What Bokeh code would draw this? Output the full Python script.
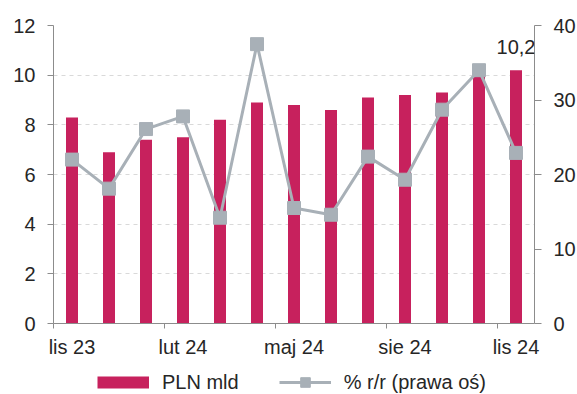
from bokeh.plotting import figure
from bokeh.layouts import column
from bokeh.models import (Range1d, LinearAxis, FixedTicker, Legend, LegendItem,
                          ColumnDataSource, Label)
from bokeh.embed import file_html
from bokeh.resources import INLINE

months = ["lis 23", "gru 23", "sty 24", "lut 24", "mar 24", "kwi 24", "maj 24",
          "cze 24", "lip 24", "sie 24", "wrz 24", "paź 24", "lis 24"]
pln_mld = [8.3, 6.9, 7.4, 7.5, 8.2, 8.9, 8.8, 8.6, 9.1, 9.2, 9.3, 10.0, 10.2]
yoy_pct = [22.0, 18.1, 26.1, 27.8, 14.2, 37.5, 15.5, 14.6, 22.4, 19.3, 28.7, 34.0, 22.9]
left_ticks = [0, 2, 4, 6, 8, 10, 12]
right_ticks = [0, 10, 20, 30, 40]
label_months = [0, 3, 6, 9, 12]

FONT = "Liberation Sans"
BAR = "#C7215D"
LINE = "#A8B0B7"
AXIS = "#8C8C8C"
TXT = "#262626"

idx = list(range(len(months)))
src = ColumnDataSource(dict(x=idx, base=[0] * len(months), pln=pln_mld, yoy=yoy_pct))

p = figure(frame_width=481, frame_height=298, output_backend="svg",
           toolbar_location=None,
           x_range=Range1d(-0.5, len(months) - 0.5), y_range=Range1d(0, 12),
           min_border_left=53, min_border_right=43, min_border_top=25,
           min_border_bottom=38)
p.extra_y_ranges = {"right": Range1d(0, 40)}
p.outline_line_color = None
p.background_fill_color = "white"


def draw(fig):
    b = fig.segment(x0="x", y0="base", x1="x", y1="pln", source=src,
                    line_color=BAR, line_width=12, line_cap="butt")
    l = fig.line(x="x", y="yoy", source=src, line_color=LINE, line_width=3,
                 y_range_name="right")
    m = fig.scatter(x="x", y="yoy", source=src, marker="square", size=13,
                    fill_color=LINE, line_color=LINE, y_range_name="right")
    return b, l, m


draw(p)

# x axis
xa = p.xaxis[0]
xa.ticker = FixedTicker(ticks=label_months,
                        minor_ticks=[m - 0.5 for m in label_months])
xa.major_label_overrides = {m: months[m] for m in label_months}
xa.major_tick_out = 0
xa.major_tick_in = 0
xa.minor_tick_out = 5
xa.minor_tick_in = 0
xa.minor_tick_line_color = AXIS
xa.axis_line_color = AXIS
xa.major_label_standoff = 7

# left axis
ya = p.yaxis[0]
ya.ticker = FixedTicker(ticks=left_ticks)
ya.major_tick_out = 6
ya.major_tick_in = 0
ya.minor_tick_line_color = None
ya.major_tick_line_color = AXIS
ya.axis_line_color = AXIS
ya.major_label_standoff = 12

# right axis
ra = LinearAxis(y_range_name="right", ticker=FixedTicker(ticks=right_ticks))
ra.major_tick_out = 7
ra.major_tick_in = 0
ra.minor_tick_line_color = None
ra.major_tick_line_color = AXIS
ra.axis_line_color = AXIS
ra.major_label_standoff = 12
p.add_layout(ra, "right")

for ax in [xa, ya, ra]:
    ax.major_label_text_font = FONT
    ax.major_label_text_font_size = "20px"
    ax.major_label_text_color = TXT

p.xgrid.grid_line_color = None
p.ygrid.grid_line_color = "#D9D9D9"
p.ygrid.grid_line_dash = "4 4"
p.ygrid.grid_line_width = 1

# value label on last bar
last = len(months) - 1
p.add_layout(Label(x=last, y=pln_mld[last], text=f"{pln_mld[last]:.1f}".replace(".", ","),
                   text_align="center", text_baseline="bottom", y_offset=16,
                   text_font=FONT, text_font_size="20px", text_color=TXT))

# legend strip (series kept outside its visible ranges, only the key shows)
lg = figure(width=577, height=33, output_backend="svg", toolbar_location=None,
            x_axis_type=None, y_axis_type=None,
            x_range=Range1d(-0.5, len(months) - 0.5), y_range=Range1d(-2, -1),
            min_border=0, min_border_left=0, min_border_right=0,
            min_border_top=0, min_border_bottom=0)
lg.extra_y_ranges = {"right": Range1d(-2, -1)}
lg.outline_line_color = None
lb, ll, lm = draw(lg)

leg = Legend(items=[LegendItem(label="PLN mld", renderers=[lb]),
                    LegendItem(label="% r/r (prawa oś)", renderers=[ll, lm])],
             location=(44, 0), orientation="horizontal",
             glyph_width=52, glyph_height=24, label_standoff=13, spacing=40,
             padding=0, margin=0, border_line_color=None,
             background_fill_alpha=0, label_text_font=FONT,
             label_text_font_size="20px", label_text_color=TXT)
lg.add_layout(leg, "center")

open("out.html", "w").write(file_html(column(p, lg, spacing=0), INLINE))
